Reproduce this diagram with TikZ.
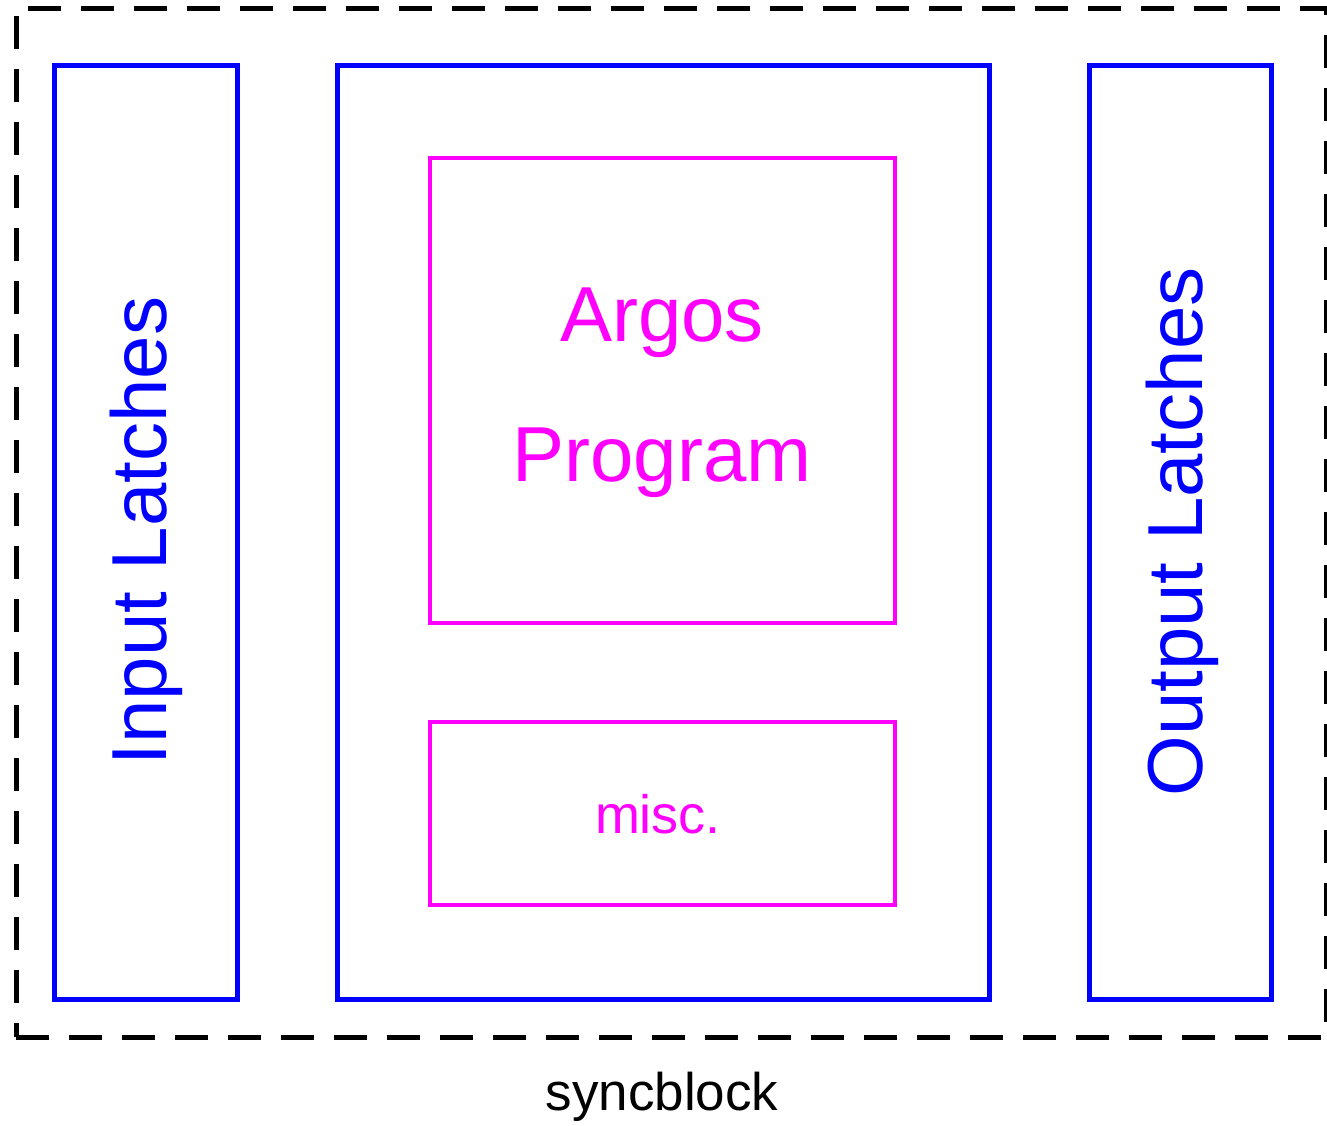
\documentclass[tikz,border=0pt]{standalone}
\usepackage{fontspec}
\setmainfont{Liberation Sans}
\definecolor{pblue}{RGB}{0,0,255}
\definecolor{pmag}{RGB}{255,0,255}
\begin{document}
\begin{tikzpicture}[x=1pt,y=-1pt,
  bluebox/.style={draw=pblue,line width=5pt,rectangle,inner sep=0pt,outer sep=0pt},
  magbox/.style={draw=pmag,line width=4pt,rectangle,inner sep=0pt,outer sep=0pt},
  bigtext/.style={inner sep=0pt,anchor=base,font=\fontsize{78pt}{90pt}\selectfont},
  dashbox/.style={draw=black,line width=5pt,dash pattern=on 33pt off 20pt,rectangle,inner sep=0pt}]
\useasboundingbox (0,0) rectangle (1327,1125);
\node[dashbox,minimum width=1310pt,minimum height=1029pt] (sync) at (671,522.5) {};
\node[bluebox,minimum width=183pt,minimum height=934pt] (inbox) at (145.5,532) {};
\node[bluebox,minimum width=652pt,minimum height=934pt] (midbox) at (663,532) {};
\node[bluebox,minimum width=182pt,minimum height=934pt] (outbox) at (1180,532) {};
\node[magbox,minimum width=465pt,minimum height=465pt] (argbox) at (662.5,390.5) {};
\node[magbox,minimum width=465pt,minimum height=183pt] (miscbox) at (662.5,813.5) {};
\node[bigtext,text=pmag] (argos) at (662,341) {Argos};
\node[bigtext,text=pmag] (program) at (662,481) {Program};
\node[inner sep=0pt,anchor=base,text=pmag,font=\fontsize{54pt}{60pt}\selectfont] (misc) at (658,833) {misc.};
\node[bigtext,text=pblue,rotate=90] (inlab) at (166,531) {Input Latches};
\node[bigtext,text=pblue,rotate=90] (outlab) at (1202,532) {Output Latches};
\node[inner sep=0pt,anchor=base,text=black,font=\fontsize{53pt}{60pt}\selectfont] (synclab) at (662,1110) {syncblock};
\end{tikzpicture}
\end{document}
